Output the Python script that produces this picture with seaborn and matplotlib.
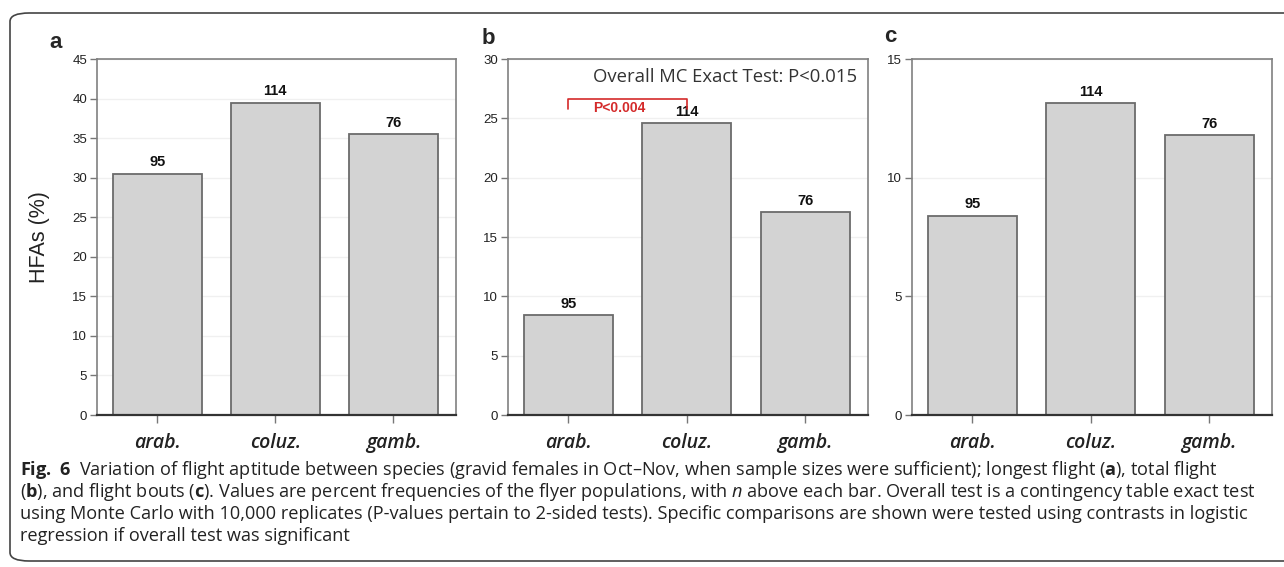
import pandas as pd
import seaborn as sns
import matplotlib.pyplot as plt
from matplotlib.patches import FancyBboxPatch

# --- data ---
species = ['arab.', 'coluz.', 'gamb.']
n_labels = ['95', '114', '76']
longest_flight = [30.5, 39.5, 35.5]   # panel a
total_flight = [8.4, 24.6, 17.1]      # panel b
flight_bouts = [8.4, 13.15, 11.8]     # panel c
panel_letters = ['a', 'b', 'c']
y_limits = [45, 30, 15]
y_step = 5

caption = [
    r'$\bf{Fig.\ 6}$  Variation of flight aptitude between species (gravid females in Oct' + '\u2013' +
    r'Nov, when sample sizes were sufficient); longest flight ($\bf{a}$), total flight',
    r'($\bf{b}$), and flight bouts ($\bf{c}$). Values are percent frequencies of the flyer populations, '
    r'with $\it{n}$ above each bar. Overall test is a contingency table exact test',
    'using Monte Carlo with 10,000 replicates (P-values pertain to 2-sided tests). '
    'Specific comparisons are shown were tested using contrasts in logistic',
    'regression if overall test was significant',
]

sns.set_style('white')
plt.rcParams['font.family'] = ['Liberation Sans', 'DejaVu Sans']
plt.rcParams['mathtext.fontset'] = 'custom'
plt.rcParams['mathtext.rm'] = 'Open Sans'
plt.rcParams['mathtext.bf'] = 'Open Sans:bold'
plt.rcParams['mathtext.it'] = 'Open Sans:italic'

W, H = 1284, 567
fig = plt.figure(figsize=(W / 100, H / 100), dpi=100)


def px_axes(left, right, top, bottom):
    return fig.add_axes([left / W, 1 - bottom / H, (right - left) / W, (bottom - top) / H])


axes_px = [(97, 456), (508, 868), (912, 1272)]
letter_pos = [(56, 42), (488, 38), (890, 36)]
all_values = [longest_flight, total_flight, flight_bouts]

for i, (vals, (l, r)) in enumerate(zip(all_values, axes_px)):
    ax = px_axes(l, r, 59, 415)
    df = pd.DataFrame({'species': species, 'pct': vals})
    sns.barplot(data=df, x='species', y='pct', color='#d3d3d3', saturation=1,
                edgecolor='#6b6b6b', linewidth=1.3, width=0.75, ax=ax, zorder=2)
    ax.set_xlim(-0.51, 2.53)
    ax.set_ylim(0, y_limits[i])
    ax.set_yticks(list(range(0, y_limits[i] + 1, y_step)))
    ax.yaxis.grid(True, color='#f0f0f0', linewidth=1, zorder=0)
    ax.set_axisbelow(True)
    ax.set_xlabel('')
    ax.set_ylabel('')
    for s in ax.spines.values():
        s.set_color('#808080')
        s.set_linewidth(1.2)
    ax.spines['bottom'].set_color('#333333')
    ax.spines['bottom'].set_linewidth(1.6)
    ax.tick_params(axis='y', left=True, length=5, width=1, color='#777777',
                   labelsize=9.5, labelcolor='#222222', pad=2)
    ax.tick_params(axis='x', bottom=True, length=6, width=1, color='#777777',
                   pad=7)
    ax.set_xticklabels(species, fontsize=14, fontstyle='italic', fontweight='semibold',
                       family=['Open Sans', 'DejaVu Sans'], color='#222222')
    for j, v in enumerate(vals):
        ax.text(j, v + y_limits[i] * 0.012, n_labels[j], ha='center', va='bottom',
                fontsize=10.5, fontweight='bold', color='#111111')
    lx, ly = letter_pos[i]
    fig.text(lx / W, 1 - ly / H, panel_letters[i], fontsize=16, fontweight='bold',
             ha='center', va='center')
    if i == 1:
        ax.text(0.97, 0.95, 'Overall MC Exact Test: P<0.015', transform=ax.transAxes,
                ha='right', va='center', fontsize=13.3, color='#333333',
                family=['Open Sans', 'DejaVu Sans'])
        ax.plot([0, 0, 1, 1], [25.8, 26.6, 26.6, 25.8], color='#d42a2a', lw=1.2,
                zorder=3)
        ax.text(0.43, 25.9, 'P<0.004', ha='center', va='center', fontsize=10,
                fontweight='bold', color='#d42a2a')

fig.text(40 / W, 1 - 237 / H, 'HFAs (%)', rotation=90, fontsize=15.5,
         ha='center', va='center', color='#222222')

# caption
y_lines = [470, 492, 514, 536]
for line, y in zip(caption, y_lines):
    fig.text(20 / W, 1 - y / H, line, fontsize=13.1, va='center', ha='left',
             family=['Open Sans', 'DejaVu Sans'], color='#222222')

frame = FancyBboxPatch((10 / W, 1 - 561 / H), 1300 / W, 548 / H,
                       boxstyle='round,pad=0,rounding_size=0.015',
                       transform=fig.transFigure, fill=False, edgecolor='#444444',
                       linewidth=1.2)
fig.patches.append(frame)

fig.savefig('out.png', dpi=100)
